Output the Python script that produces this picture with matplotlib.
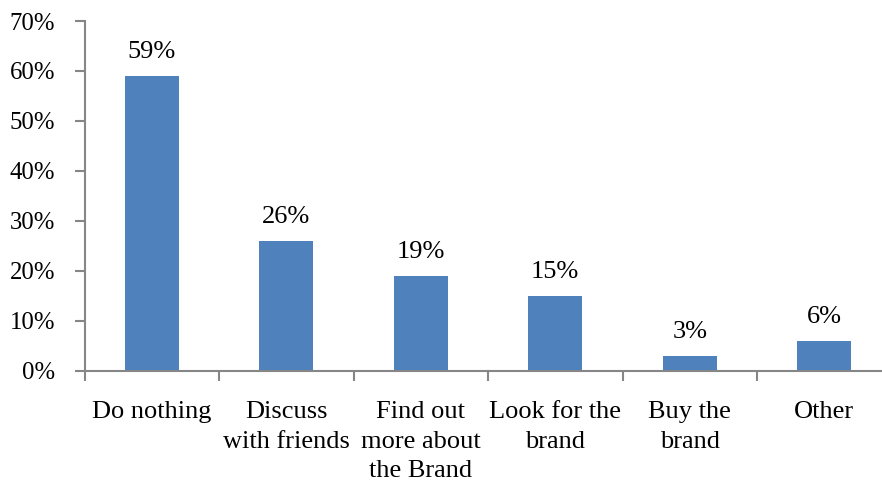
import matplotlib.pyplot as plt
import numpy as np

categories = ['Do nothing', 'Discuss\nwith friends', 'Find out\nmore about\nthe Brand',
              'Look for the\nbrand', 'Buy the\nbrand', 'Other']
values = [59, 26, 19, 15, 3, 6]

plt.rcParams['font.family'] = ['Liberation Serif', 'DejaVu Serif']
fs = 19
gray = '#868686'

fig = plt.figure(figsize=(8.82, 4.83), dpi=100)
ax = fig.add_axes([84.5 / 882, 1 - 370.5 / 483, 807 / 882, 349.5 / 483])

x = np.arange(len(categories))
ax.bar(x, values, width=0.4, color='#4F81BD', zorder=2)

for xi, v in zip(x, values):
    ax.text(xi, v + 3.6, f'{v}%', ha='center', va='baseline', fontsize=fs)

ax.set_xlim(-0.5, len(categories) - 0.5)
ax.set_ylim(0, 70)
ax.set_yticks(range(0, 71, 10))
ax.set_yticklabels([f'{t}%' for t in range(0, 71, 10)], fontsize=17.8)

ax.set_xticks(x)
ax.set_xticklabels(categories, fontsize=fs, linespacing=1.45, va='top')
ax.tick_params(axis='x', length=0, pad=22)
ax.set_xticks(np.arange(-0.5, len(categories)), minor=True)
ax.tick_params(axis='x', which='minor', length=7, color=gray, width=1.5, direction='out')
ax.tick_params(axis='y', length=7, color=gray, width=1.5, direction='out', pad=14)

for s in ['top', 'right']:
    ax.spines[s].set_visible(False)
for s in ['left', 'bottom']:
    ax.spines[s].set_color(gray)
    ax.spines[s].set_linewidth(1.5)

fig.savefig('out.png', dpi=100)
